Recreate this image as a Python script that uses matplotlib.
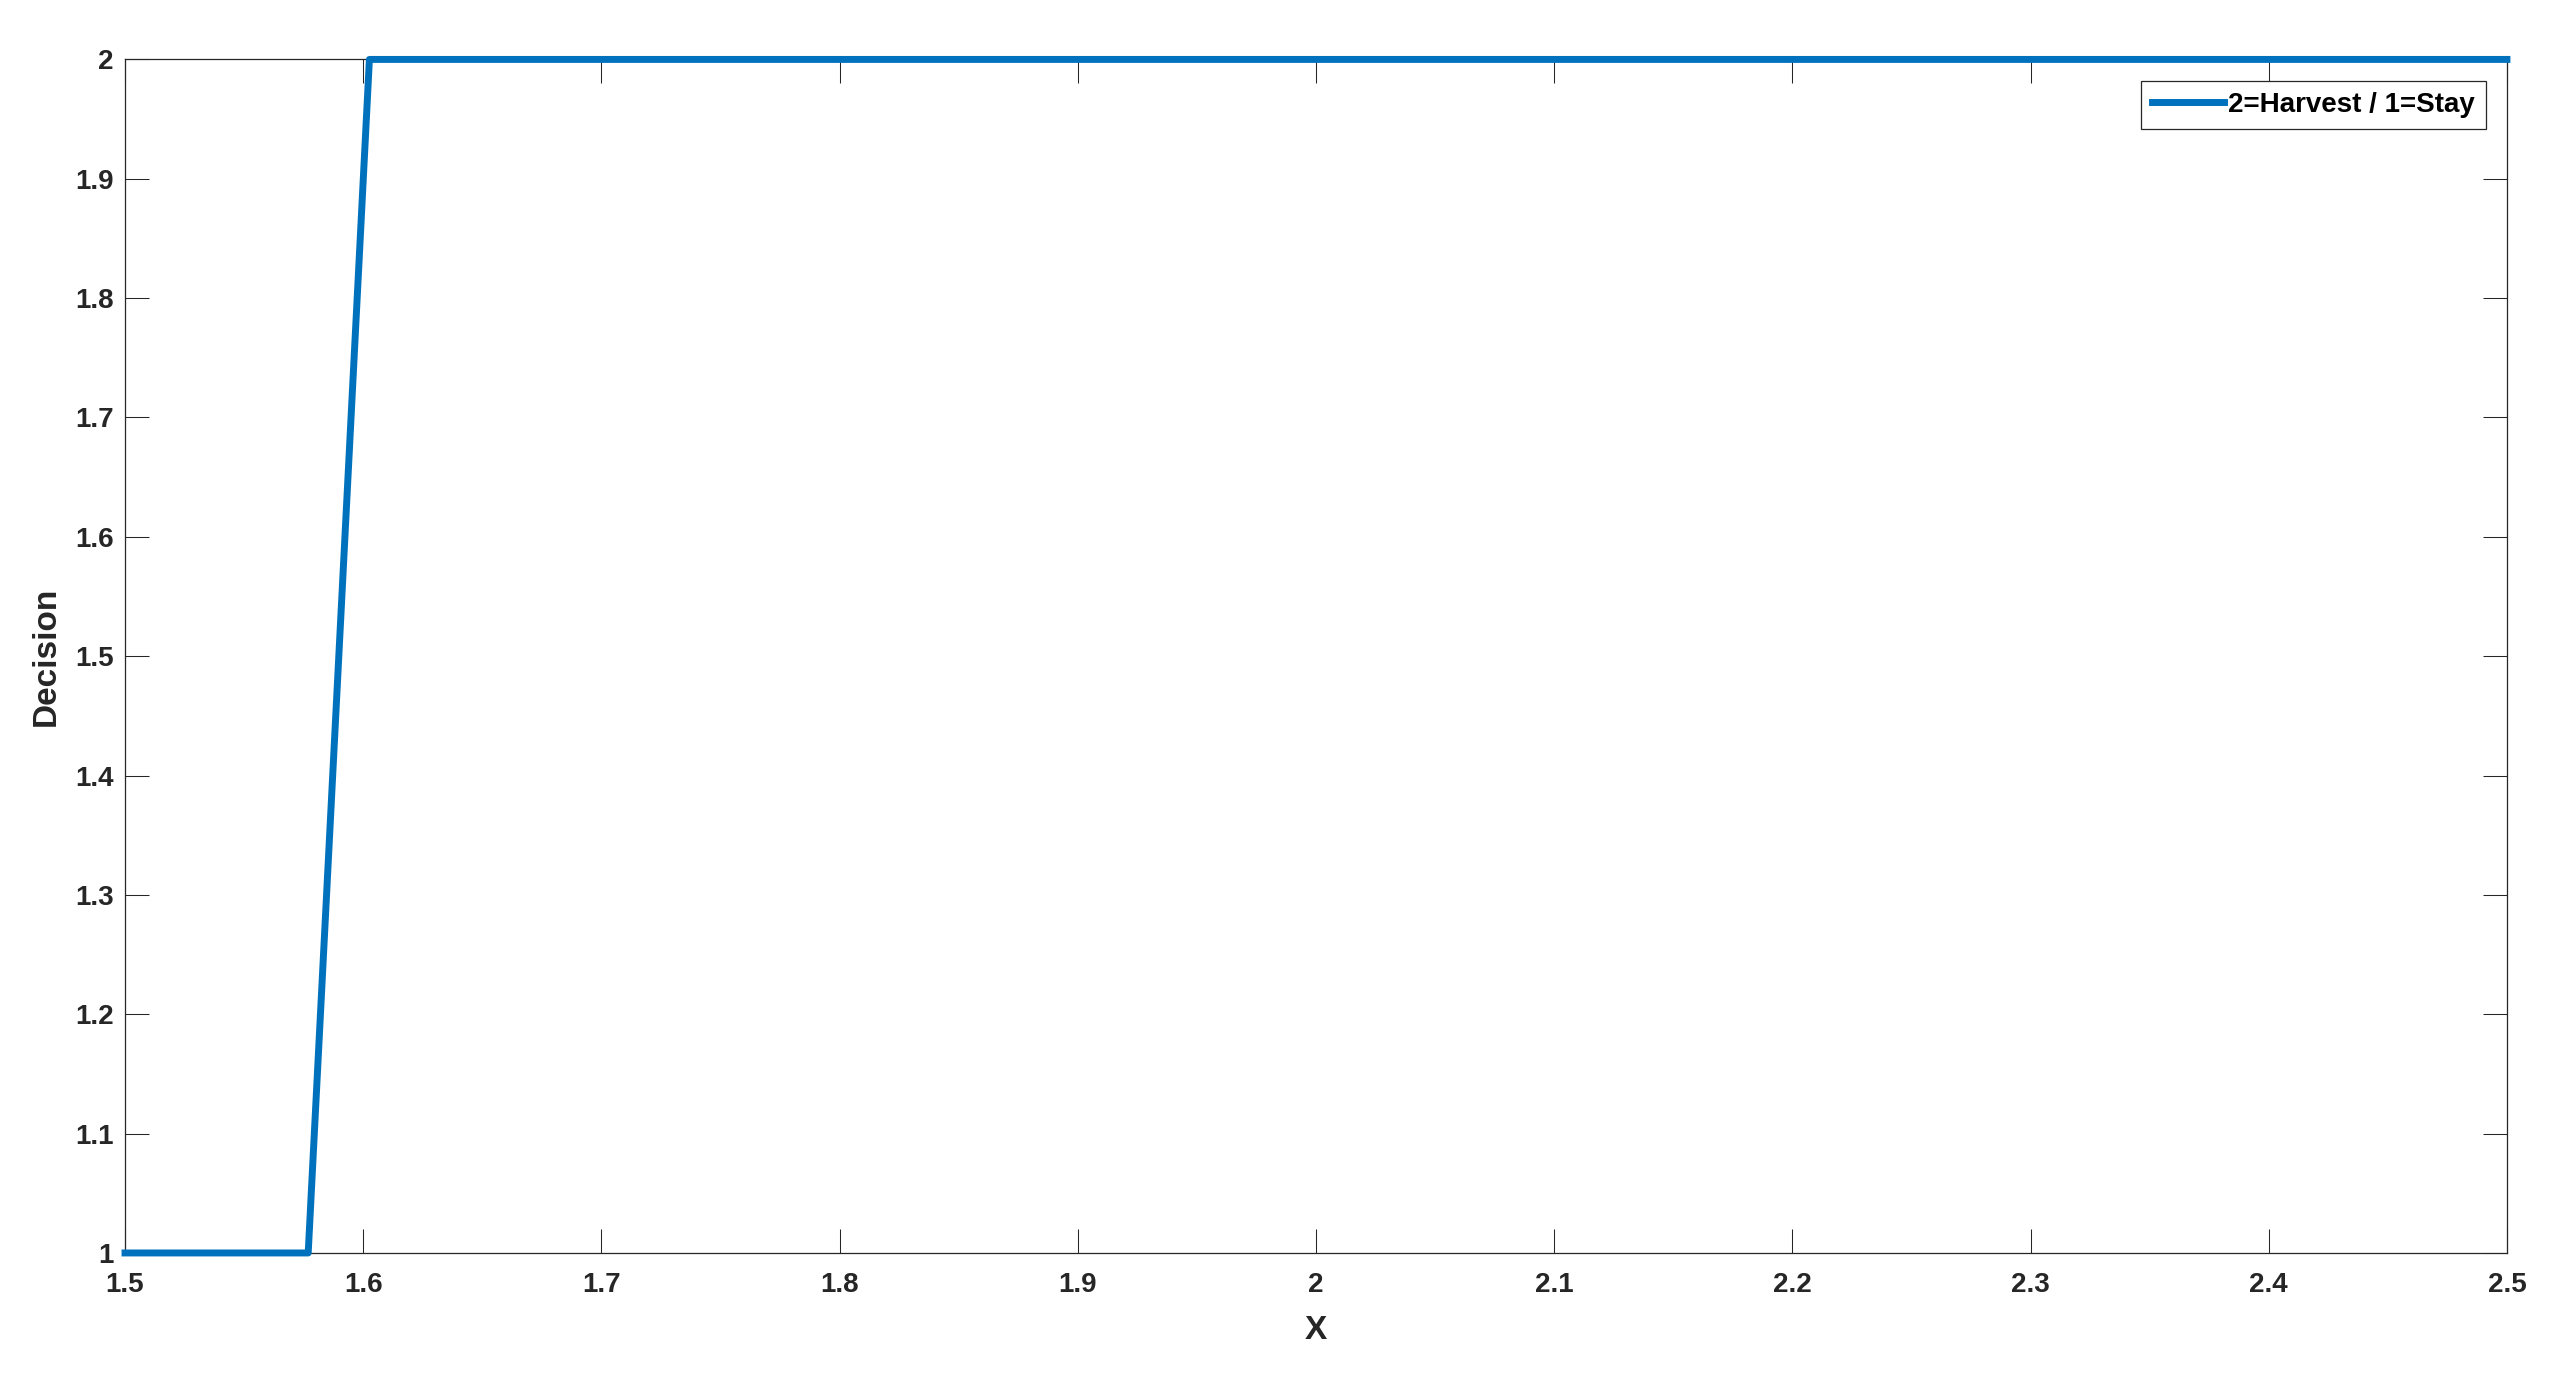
import matplotlib.pyplot as plt

# step points
x = [1.5, 1.5769, 1.6026, 2.5]
decision = [1, 1, 2, 2]

xticks = [1.5, 1.6, 1.7, 1.8, 1.9, 2, 2.1, 2.2, 2.3, 2.4, 2.5]
yticks = [1, 1.1, 1.2, 1.3, 1.4, 1.5, 1.6, 1.7, 1.8, 1.9, 2]

plt.rcParams['font.family'] = ['Liberation Sans', 'DejaVu Sans']
plt.rcParams['font.weight'] = 'bold'

fig = plt.figure(figsize=(25.62, 13.79), dpi=100)
ax = fig.add_axes([0.0488, 0.0914, 0.9297, 0.8655])

ax.plot(x, decision, color='#0072BD', linewidth=5, label='2=Harvest / 1=Stay',
        clip_on=False, zorder=3)

ax.set_xlim(1.5, 2.5)
ax.set_ylim(1, 2)
ax.set_xticks(xticks)
ax.set_yticks(yticks)
ax.set_xticklabels(['%g' % t for t in xticks])
ax.set_yticklabels(['%g' % t for t in yticks])

ax.tick_params(direction='in', length=17, width=0.75, color='#262626',
               labelsize=20, labelcolor='#262626', top=True, right=True)
ax.tick_params(axis='x', pad=14)
ax.tick_params(axis='y', pad=8)
for s in ax.spines.values():
    s.set_color('#262626')
    s.set_linewidth(0.9)

ax.set_xlabel('X', fontsize=24, fontweight='bold', color='#262626', labelpad=12)
ax.set_ylabel('Decision', fontsize=24, fontweight='bold', color='#262626', labelpad=10)

leg = ax.legend(loc='upper right', bbox_to_anchor=(0.9912, 0.982), borderaxespad=0,
                fontsize=20, handlelength=2.6, handletextpad=0.15, fancybox=False,
                framealpha=1, edgecolor='#262626', borderpad=0.4)
leg.get_frame().set_linewidth(0.9)

fig.savefig('out.png', dpi=100)
